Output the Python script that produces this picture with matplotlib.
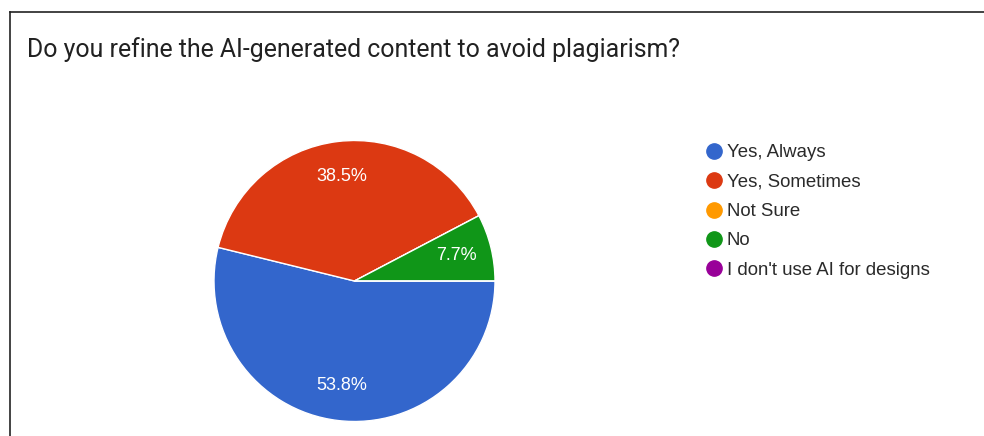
import matplotlib
matplotlib.use("Agg")
import matplotlib.pyplot as plt
from matplotlib.lines import Line2D

title = "Do you refine the AI-generated content to avoid plagiarism?"
answers = ["Yes, Always", "Yes, Sometimes", "Not Sure", "No", "I don't use AI for designs"]
counts = [7, 5, 0, 1, 0]
colors = ["#3366CC", "#DC3912", "#FF9900", "#109618", "#990099"]

W, H = 984, 436
fig = plt.figure(figsize=(W / 100, H / 100), dpi=100)
fig.patch.set_facecolor("white")
plt.rcParams["font.family"] = ["Liberation Sans", "DejaVu Sans"]

# card border (top and left edge)
fig.add_artist(Line2D([10 / W, 1], [1 - 12 / H, 1 - 12 / H], color="#222222", lw=1.2))
fig.add_artist(Line2D([10 / W, 10 / W], [0, 1 - 12 / H], color="#222222", lw=1.2))

fig.text(27 / W, 1 - 50 / H, title, fontsize=17.9, color="#212121",
         va="center", ha="left", family=["Roboto", "DejaVu Sans"])

cx, cy, r = 354.5, 281, 140.5
ax = fig.add_axes([(cx - r) / W, (H - cy - r) / H, 2 * r / W, 2 * r / H])


def fmt(p):
    return f"{p:.1f}%" if p > 0 else ""


wedges, texts, autotexts = ax.pie(
    counts, colors=colors, startangle=0, counterclock=False,
    autopct=fmt, pctdistance=0.75,
    wedgeprops=dict(edgecolor="white", linewidth=1),
    textprops=dict(color="white", fontsize=13),
)
ax.set_xlim(-1, 1)
ax.set_ylim(-1, 1)

handles = [Line2D([], [], marker="o", linestyle="", markersize=11,
                  markerfacecolor=c, markeredgecolor=c) for c in colors]
fig.legend(handles, answers, loc="upper left",
           bbox_to_anchor=(695 / W, 1 - 137 / H), frameon=False,
           fontsize=13.4, labelspacing=0.66, handletextpad=0.1,
           handlelength=1.2, labelcolor="#2a2a2a", borderaxespad=0)

fig.savefig("out.png", dpi=100, facecolor="white")
